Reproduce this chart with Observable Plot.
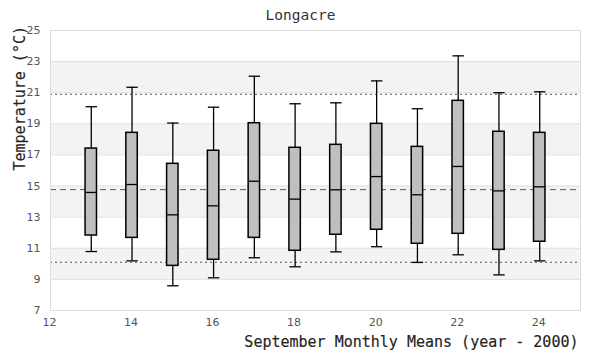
<!DOCTYPE html>
<html>
<head>
<meta charset="utf-8">
<script src="https://cdn.jsdelivr.net/npm/d3@7"></script>
<script src="https://cdn.jsdelivr.net/npm/@observablehq/plot@0.6"></script>
<style>
  html, body { margin: 0; padding: 0; background: #fff; }
</style>
</head>
<body>
<div id="chart"></div>
<script>
const years       = [13, 14, 15, 16, 17, 18, 19, 20, 21, 22, 23, 24];
const whiskerHigh = [20.1, 21.35, 19.05, 20.07, 22.06, 20.29, 20.35, 21.76, 19.97, 23.37, 21.0, 21.06];
const q3          = [17.41, 18.42, 16.43, 17.27, 19.04, 17.46, 17.65, 19.0, 17.52, 20.48, 18.49, 18.42];
const medians     = [14.59, 15.1, 13.15, 13.73, 15.31, 14.16, 14.76, 15.61, 14.44, 16.26, 14.69, 14.95];
const q1          = [11.82, 11.67, 9.87, 10.26, 11.67, 10.84, 11.87, 12.19, 11.29, 11.93, 10.9, 11.42];
const whiskerLow  = [10.79, 10.19, 8.59, 9.1, 10.39, 9.81, 10.77, 11.1, 10.09, 10.58, 9.29, 10.19];

const yTicks = [7, 9, 11, 13, 15, 17, 19, 21, 23, 25];
const xTicks = [12, 14, 16, 18, 20, 22, 24];
const bandLow  = [9, 13, 17, 21];
const bandHigh = [11, 15, 19, 23];
const refUpper = 20.9;
const refMean  = 14.77;
const refLower = 10.1;

const titleText = "Longacre";
const xLabel = "September Monthly Means (year - 2000)";
const yLabel = "Temperature (°C)";

const data = years.map((year, i) => ({
  year, hi: whiskerHigh[i], q3: q3[i], med: medians[i], q1: q1[i], lo: whiskerLow[i]
}));
const bands = bandLow.map((lo, i) => ({lo, hi: bandHigh[i]}));

const halfBox = 0.14;
const mono = "'DejaVu Sans Mono', 'Liberation Mono', monospace";

const chart = Plot.plot({
  width: 600,
  height: 360,
  marginLeft: 50,
  marginRight: 20,
  marginTop: 30,
  marginBottom: 50,
  style: {fontFamily: "'DejaVu Sans', sans-serif", fontSize: "11px", background: "#fff"},
  x: {domain: [12, 25]},
  y: {domain: [7, 25]},
  marks: [
    Plot.rect(bands, {y1: "lo", y2: "hi", fill: "#f3f3f3"}),
    Plot.ruleY(yTicks, {stroke: "#e0e0e0", strokeWidth: 1}),
    Plot.ruleY([refUpper], {stroke: "#555", strokeDasharray: "2,3"}),
    Plot.ruleY([refMean], {stroke: "#555", strokeDasharray: "6,4"}),
    Plot.ruleY([refLower], {stroke: "#555", strokeDasharray: "2,3"}),
    Plot.ruleX(data, {x: "year", y1: "lo", y2: "hi", stroke: "black", strokeWidth: 1.3}),
    Plot.rect(data, {x1: d => d.year - halfBox, x2: d => d.year + halfBox, y1: "q1", y2: "q3",
      fill: "#bfbfbf", stroke: "black", strokeWidth: 1.5}),
    Plot.link(data, {x1: d => d.year - halfBox, x2: d => d.year + halfBox, y1: "med", y2: "med",
      stroke: "black", strokeWidth: 1.3}),
    Plot.link(data, {x1: d => d.year - halfBox, x2: d => d.year + halfBox, y1: "hi", y2: "hi",
      stroke: "black", strokeWidth: 1.3}),
    Plot.link(data, {x1: d => d.year - halfBox, x2: d => d.year + halfBox, y1: "lo", y2: "lo",
      stroke: "black", strokeWidth: 1.3}),
    Plot.frame({stroke: "#dcdcdc"}),
    Plot.axisY(yTicks, {tickSize: 0, tickPadding: 10, label: null, color: "#555", fontSize: 11}),
    Plot.axisX(xTicks, {tickSize: 0, tickPadding: 8, label: null, color: "#555", fontSize: 11, dx: -1}),
    Plot.text([titleText], {frameAnchor: "top", dx: -15, dy: -11, lineAnchor: "bottom", fontFamily: mono, fontSize: 14.5, fill: "#333"}),
    Plot.text([yLabel], {frameAnchor: "left", rotate: -90, dx: -30, fontFamily: mono, fontSize: 15, fill: "#222", stroke: "#222", strokeWidth: 0.15}),
    Plot.text([xLabel], {frameAnchor: "bottom-right", textAnchor: "end", dx: -2, dy: 36, fontFamily: mono, fontSize: 15, fill: "#222", stroke: "#222", strokeWidth: 0.15})
  ]
});
document.getElementById("chart").appendChild(chart);
</script>
</body>
</html>
